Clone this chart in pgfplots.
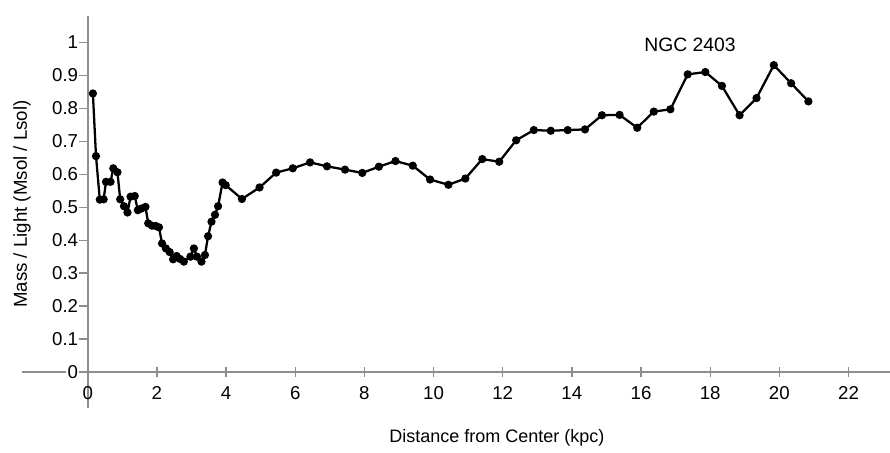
\documentclass[border=0pt]{standalone}
\usepackage{pgfplots}
\pgfplotsset{compat=1.18}
\usepackage{fontspec}
\setmainfont{Liberation Sans}
\definecolor{axgray}{HTML}{8E8E8E}
\pgfplotstableread{
x y
0.15 0.845
0.24 0.655
0.35 0.523
0.46 0.524
0.53 0.577
0.66 0.577
0.74 0.618
0.86 0.606
0.94 0.524
1.05 0.503
1.15 0.484
1.24 0.532
1.36 0.534
1.45 0.491
1.55 0.496
1.67 0.501
1.75 0.451
1.86 0.444
1.97 0.443
2.06 0.439
2.15 0.390
2.26 0.375
2.37 0.364
2.47 0.342
2.57 0.352
2.67 0.343
2.78 0.335
2.97 0.350
3.07 0.375
3.16 0.350
3.29 0.335
3.39 0.355
3.48 0.412
3.58 0.456
3.68 0.477
3.77 0.503
3.90 0.575
3.99 0.567
4.46 0.525
4.97 0.560
5.45 0.605
5.93 0.618
6.43 0.636
6.92 0.624
7.44 0.614
7.94 0.604
8.42 0.623
8.90 0.640
9.40 0.626
9.90 0.584
10.43 0.568
10.92 0.587
11.41 0.646
11.90 0.638
12.39 0.703
12.90 0.734
13.39 0.732
13.88 0.734
14.38 0.736
14.87 0.779
15.38 0.780
15.89 0.741
16.37 0.790
16.85 0.797
17.35 0.903
17.86 0.910
18.34 0.868
18.85 0.779
19.34 0.831
19.84 0.931
20.34 0.876
20.84 0.821
}\datatable
\begin{document}
\begin{tikzpicture}
\begin{axis}[
  scale only axis,
  width=651pt, height=294pt,
  axis lines=middle,
  axis line style={-, draw=axgray, line width=1.5pt},
  xmin=-1.9, xmax=23.2,
  ymin=-0.109, ymax=1.08,
  xtick={2,4,...,22},
  xticklabels={2,4,6,8,10,12,14,16,18,20,22},
  ytick={0.1,0.2,0.3,0.4,0.5,0.6,0.7,0.8,0.9,1},
  yticklabels={0.1,0.2,0.3,0.4,0.5,0.6,0.7,0.8,0.9,1},
  extra x ticks={0},
  extra x tick labels={0},
  extra y ticks={0},
  extra y tick labels={0},
  /pgf/number format/assume math mode=true,
  tick label style={font=\fontsize{14}{16}\selectfont, text=black},
  x tick style={draw=axgray, line width=1pt},
  y tick style={draw=axgray, line width=1pt},
  major tick length=7pt,
  xtick align=center,
  ytick align=outside,
  xticklabel style={yshift=-4pt},
  yticklabel style={fill=white, inner sep=1pt, xshift=1pt},
  xlabel={Distance from Center (kpc)},
  ylabel={Mass / Light (Msol / Lsol)},
  every axis x label/.style={at={(rel axis cs:0.547,-0.077)}, anchor=center, font=\fontsize{13.5}{16}\selectfont},
  every axis y label/.style={at={(rel axis cs:0,0.515)}, anchor=center, rotate=90, xshift=1.5pt, font=\fontsize{14}{16}\selectfont},
  clip=false,
]
\addplot[black, line width=1.7pt, mark=*, mark size=2.2pt] table[x=x, y=y] {\datatable};
\node[font=\fontsize{14.5}{17}\selectfont, anchor=center] at (rel axis cs:0.7696,0.926) {NGC 2403};
\end{axis}
\pgfresetboundingbox
\path[use as bounding box] ([shift={(-16.5pt,-33.75pt)}]current axis.south west) rectangle ([shift={(0pt,12pt)}]current axis.north east);
\end{tikzpicture}
\end{document}
